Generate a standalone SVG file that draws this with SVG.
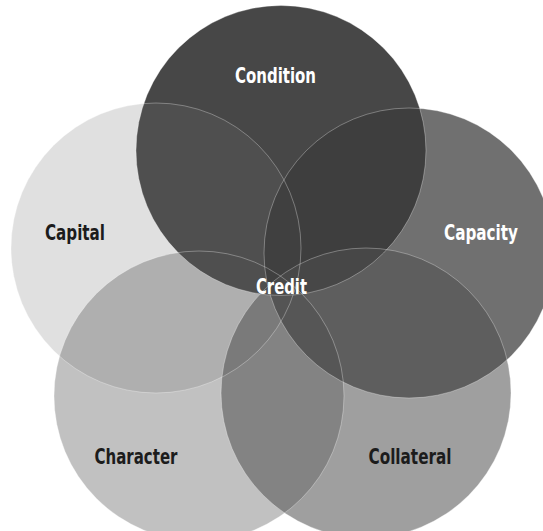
<svg xmlns="http://www.w3.org/2000/svg" width="543" height="531" viewBox="0 0 543 531">
<style>
.c{fill:none;stroke:#ffffff;stroke-opacity:0.45;stroke-width:0.7}
.t{font-family:"Liberation Sans Narrow","DejaVu Sans Condensed","Liberation Sans",sans-serif;font-weight:bold;font-size:22px;text-anchor:middle}
.w{fill:#ffffff}
.d{fill:#1c1c1c}
</style>
<defs>
<circle id="cCond" cx="281" cy="150.5" r="145"/>
<circle id="cCapi" cx="156" cy="248" r="145"/>
<circle id="cCapa" cx="409" cy="253" r="145"/>
<circle id="cChar" cx="199" cy="396" r="145"/>
<circle id="cColl" cx="366" cy="393" r="145"/>
</defs>
<rect width="543" height="531" fill="#ffffff"/>
<g id="character"><use href="#cChar" fill="#c1c1c1"/></g>
<g id="condition"><use href="#cCond" fill="#474747"/></g>
<g id="capital"><use href="#cCapi" fill="#6e6e6e" fill-opacity="0.21"/></g>
<g id="capacity"><use href="#cCapa" fill="#3b3b3b" fill-opacity="0.728"/></g>
<g id="collateral"><use href="#cColl" fill="#4f4f4f" fill-opacity="0.545"/></g>
<g id="outlines">
<use href="#cChar" class="c"/>
<use href="#cCond" class="c"/>
<use href="#cCapi" class="c"/>
<use href="#cCapa" class="c"/>
<use href="#cColl" class="c"/>
</g>
<g id="labels">
<text class="t w" x="275.5" y="83" textLength="81" lengthAdjust="spacingAndGlyphs">Condition</text>
<text class="t d" x="75" y="240" textLength="60" lengthAdjust="spacingAndGlyphs">Capital</text>
<text class="t w" x="481" y="240" textLength="74" lengthAdjust="spacingAndGlyphs">Capacity</text>
<text class="t w" x="281.5" y="294" textLength="51" lengthAdjust="spacingAndGlyphs">Credit</text>
<text class="t d" x="136" y="464" textLength="83" lengthAdjust="spacingAndGlyphs">Character</text>
<text class="t d" x="410" y="464" textLength="83" lengthAdjust="spacingAndGlyphs">Collateral</text>
</g>
</svg>
